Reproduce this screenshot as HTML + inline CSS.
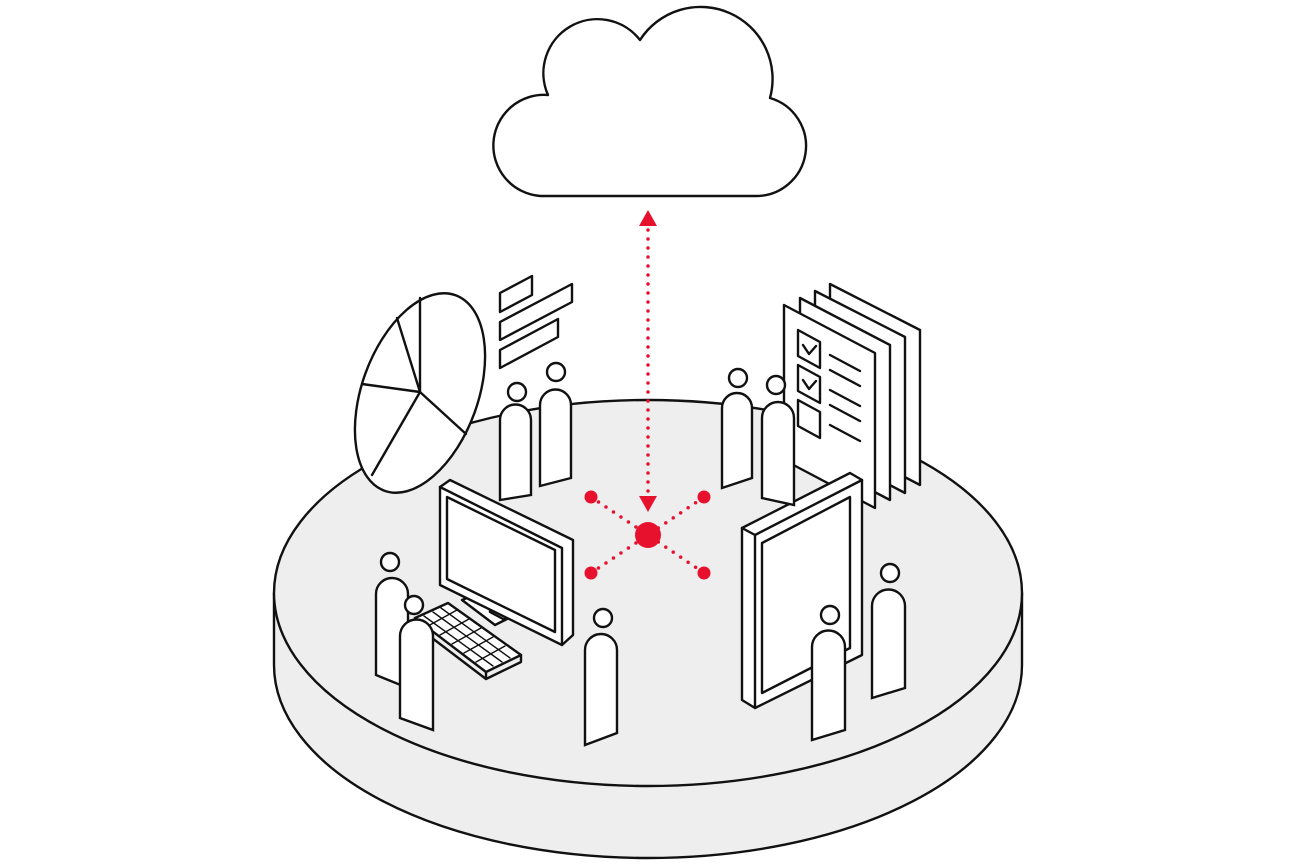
<!DOCTYPE html>
<html><head><meta charset="utf-8"><style>
html,body{margin:0;padding:0;background:#fff;}
svg{display:block}
</style></head><body>
<svg width="1296" height="864" viewBox="0 0 1296 864" xmlns="http://www.w3.org/2000/svg">
<g stroke="#111" stroke-width="2.4" stroke-linejoin="round" stroke-linecap="round">
<path d="M274,593 L274,665 A374,193 0 0 0 1022,665 L1022,593 Z" fill="#eeeeee"/>
<ellipse cx="648" cy="593" rx="374" ry="193" fill="#eeeeee"/>
<path d="M540,196 L755,196 A50,50 0 0 0 770,98 A72,72 0 0 0 640,40 A54,54 0 0 0 548,95 A48,48 0 0 0 540,196 Z" fill="#fff"/>
<g transform="rotate(20 420 393)">
<ellipse cx="420" cy="393" rx="58" ry="104" fill="#fff"/>
</g>
<g fill="none">
<path d="M420,392 L420,298"/><path d="M420,392 L397,318"/><path d="M420,392 L362,384"/>
<path d="M420,392 L372,475"/><path d="M420,392 L466,434"/>
</g>
<path d="M500,293 L532,276 L532,295 L500,312 Z" fill="#fff"/>
<path d="M500,322 L572,284 L572,302 L500,340 Z" fill="#fff"/>
<path d="M500,350 L558,319 L558,337 L500,368 Z" fill="#fff"/>
<path d="M830,284 L920,330 L920,485 L830,438 Z" fill="#fff"/>
<path d="M815,291 L905,337 L905,493 L815,446 Z" fill="#fff"/>
<path d="M800,298 L890,345 L890,500 L800,453 Z" fill="#fff"/>
<path d="M784,305 L875,353 L875,508 L784,460 Z" fill="#fff"/>
<path d="M798,330 L820,342 L820,368 L798,356 Z" fill="#fff"/>
<path d="M798,365 L820,377 L820,403 L798,391 Z" fill="#fff"/>
<path d="M798,400 L820,412 L820,438 L798,426 Z" fill="#fff"/>
<path d="M803,345 L809,354 L816,346 M803,380 L809,389 L816,381" fill="none"/>
<path d="M830,355 L860,371 M830,370 L860,386 M830,390 L860,406 M830,405 L860,421 M830,425 L860,441" fill="none"/>
<path d="M462,600 L500,585 L535,605 L495,625 Z" fill="#fff"/>
<path d="M490,565 L490,612 L505,620 L505,572" fill="#fff"/>
<path d="M440,487 L450,480 L573,540 L573,635 L562,645 L440,585 Z" fill="#fff"/>
<path d="M440,487 L562,548 L562,645" fill="none"/>
<path d="M447,497 L555,550 L555,632 L447,579 Z" fill="#fff"/>
<path d="M415,618 L448,603 L521,655 L486,672 Z" fill="#fff"/>
<path d="M415,618 L415,625 L486,679 L521,662 L521,655 M486,672 L486,679" fill="none"/>
<g stroke-width="1.4" fill="none">
<path d="M424,616 L493,666 M433,612 L502,662 M441,608 L510,658"/>
<path d="M428,626 L457,610 M440,635 L469,619 M452,644 L481,628 M464,653 L493,637 M476,662 L505,646"/>
</g>
<path d="M742,528 L850,473 L862,480 L862,655 L755,708 L742,700 Z" fill="#fff"/>
<path d="M742,528 L755,535 L862,480 M755,535 L755,708" fill="none"/>
<path d="M762,543 L850,497 L850,648 L762,693 Z" fill="#fff"/>
</g>
<g stroke="#111" stroke-width="2.4" fill="#fff">
<path d="M500,500 L500,420 A15.5,15.5 0 0 1 531,420 L531,495 Z"/><circle cx="517" cy="392" r="9"/>
<path d="M540,486 L540,405 A15.5,15.5 0 0 1 571,405 L571,478 Z"/><circle cx="556" cy="372" r="9"/>
<path d="M722,488 L722,408 A15,15 0 0 1 752,408 L752,478 Z"/><circle cx="738" cy="378" r="9"/>
<path d="M762,498 L762,418 A16,16 0 0 1 794,418 L794,505 Z"/><circle cx="776" cy="385" r="9"/>
<path d="M376,675 L376,594 A16,16 0 0 1 408,594 L408,688 Z"/><circle cx="390" cy="562" r="9"/>
<path d="M400,718 L400,636 A16.5,16.5 0 0 1 433,636 L433,730 Z"/><circle cx="414" cy="605" r="9"/>
<path d="M585,745 L585,650 A16,16 0 0 1 617,650 L617,733 Z"/><circle cx="603" cy="618" r="9"/>
<path d="M812,740 L812,647 A16.5,16.5 0 0 1 845,647 L845,730 Z"/><circle cx="830" cy="615" r="9"/>
<path d="M872,698 L872,606 A16.5,16.5 0 0 1 905,606 L905,688 Z"/><circle cx="890" cy="573" r="9"/>
</g>
<g stroke="#e8112d" stroke-width="3.5" stroke-linecap="round" stroke-dasharray="0 9" fill="none">
<path d="M648,230 L648,495"/>
<path d="M591,497 L648,535 L704,497 M591,573 L648,535 L704,573"/>
</g>
<g fill="#e8112d">
<path d="M648,210 L657,226 L639,226 Z"/>
<path d="M648,512 L657,496 L639,496 Z"/>
<circle cx="648" cy="535" r="13"/>
<circle cx="591" cy="497" r="6.5"/><circle cx="704" cy="497" r="6.5"/>
<circle cx="591" cy="573" r="6.5"/><circle cx="704" cy="573" r="6.5"/>
</g>
</svg>
</body></html>
